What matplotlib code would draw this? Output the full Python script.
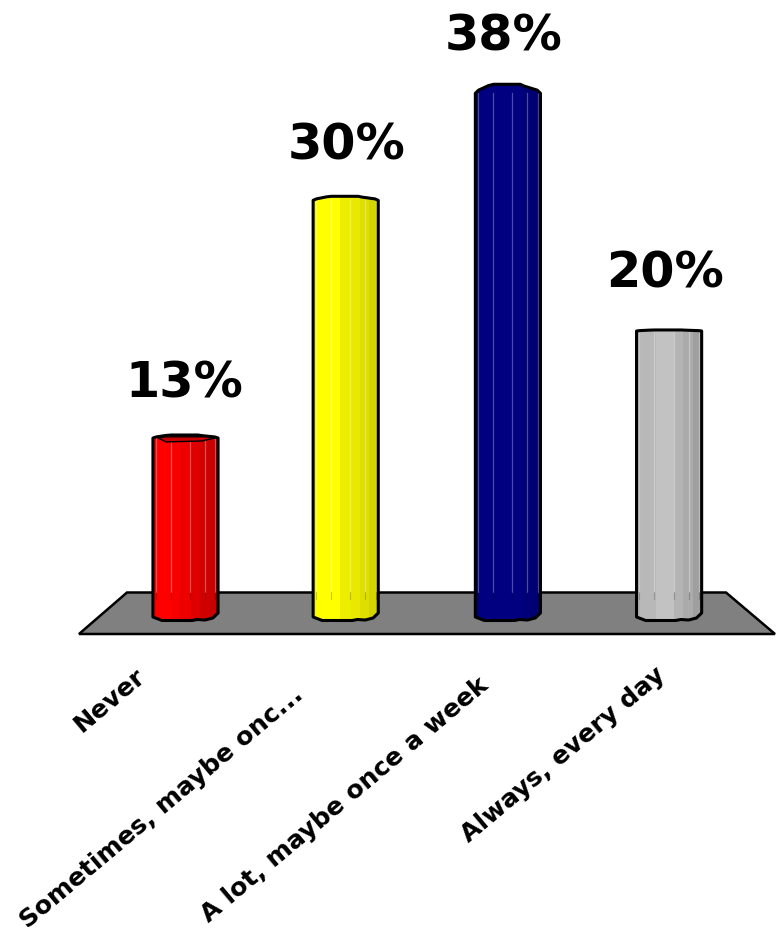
import matplotlib
matplotlib.use("Agg")
import matplotlib.pyplot as plt
from matplotlib.patches import Polygon

categories = ["Never", "Sometimes, maybe onc...", "A lot, maybe once a week", "Always, every day"]
values = [12.95, 30.05, 37.75, 20.65]
value_labels = ["13%", "30%", "38%", "20%"]
bar_colors = [(1.0, 0.0, 0.0), (1.0, 1.0, 0.0), (0.0, 0.0, 0.5), (0.76, 0.76, 0.76)]

W, H = 777, 933
BASE_PX = 618      # pixel row of value 0
PX_PER_UNIT = 13.9
FIRST_PX = 185.5   # pixel column of the first category
STEP_PX = 161.2
BAR_W = 0.404      # in category units, about 65 px

# shading across one cylinder: strip edges as fraction of width, brightness of each strip
strip_edges = [0, 0.05, 0.3, 0.42, 0.58, 0.72, 0.86, 1]
strip_shades = {
    0: [0.95, 1.0, 0.97, 0.93, 0.87, 0.82, 0.78],
    1: [0.97, 1.0, 1.0, 0.93, 0.91, 0.87, 0.83],
    2: [0.9, 1.0, 1.0, 1.0, 1.0, 0.95, 0.9],
    3: [0.92, 0.95, 1.0, 1.0, 0.93, 0.88, 0.82],
}
highlight_lines = [0.04, 0.27, 0.57, 0.8, 0.96]
cap_rise = [3, 4, 9, 1]
x_nudge = [0, -1, 0, 0]

# lumpy outline of the bars, fraction of width and pixels below/above the ends
bottom_shape = [(0, -1), (0.14, 2.5), (0.6, 2.5), (0.68, 1.5), (0.8, 2), (0.92, 0), (1, -5)]
top_shape = [(1, 0), (0.95, -0.35), (0.75, -0.8), (0.69, -1), (0.28, -1), (0.2, -0.85), (0.05, -0.35), (0, 0)]


def px_x(px):
    return (px - FIRST_PX) / STEP_PX


def px_y(py):
    return (BASE_PX - py) / PX_PER_UNIT


fig = plt.figure(figsize=(W / 100, H / 100), dpi=100)
ax = fig.add_axes([0, 0, 1, 1])
ax.set_xlim(px_x(0), px_x(W))
ax.set_ylim(px_y(H), px_y(0))
ax.axis("off")

# floor
floor = [(127, 592.5), (726, 592.5), (775, 634), (79, 634)]
ax.add_patch(Polygon([(px_x(a), px_y(b)) for a, b in floor], closed=True,
                     facecolor="#808080", edgecolor="black", linewidth=1.8, zorder=1))

for i, val in enumerate(values):
    left = i + x_nudge[i] / STEP_PX - BAR_W / 2
    rise = cap_rise[i]
    outline = []
    for frac, off in bottom_shape:
        outline.append((left + frac * BAR_W, -off / PX_PER_UNIT))
    for frac, off in top_shape:
        outline.append((left + frac * BAR_W, val - off * rise / PX_PER_UNIT))
    clip = Polygon(outline, closed=True, facecolor="none", edgecolor="black",
                   linewidth=2.2, zorder=4, joinstyle="round")
    ax.add_patch(clip)

    r, g, b = bar_colors[i]
    for j, shade in enumerate(strip_shades[i]):
        x0 = left + strip_edges[j] * BAR_W
        x1 = left + strip_edges[j + 1] * BAR_W
        bars = ax.bar(x0, val + 2, width=x1 - x0, bottom=-1, align="edge",
                      color=(r * shade, g * shade, b * shade), linewidth=0, zorder=2)
        bars[0].set_clip_path(clip)

    # thin lighter lines stop at the back edge of the floor, short dark ticks below it
    for frac in highlight_lines:
        xl = left + frac * BAR_W
        line, = ax.plot([xl, xl], [px_y(592), val], color="white", alpha=0.3,
                        linewidth=0.9, zorder=3)
        line.set_clip_path(clip)
        tick, = ax.plot([xl, xl], [px_y(592), px_y(599)], color="black", alpha=0.2,
                        linewidth=0.8, zorder=3)
        tick.set_clip_path(clip)

    # red bar shows a bit of the inside at the top
    if i == 0:
        inner = [(0.08, 0), (0.2, 1.3), (0.75, 1.0), (0.95, 0), (0.8, -0.4), (0.2, -0.4)]
        ax.add_patch(Polygon([(left + f * BAR_W, val - o * 3 / PX_PER_UNIT) for f, o in inner],
                             closed=True, facecolor="#c80000", edgecolor="black", linewidth=1, zorder=5))

# value labels above the bars
label_dx = [-1, 0, -4, -4]
label_dy = [3, 3, 5, 6]
for i, val in enumerate(values):
    ax.annotate(value_labels[i], (i, val),
                xytext=(label_dx[i] / 1.389, 27 + label_dy[i] / 1.389), textcoords="offset points",
                ha="center", va="baseline", fontsize=35.5, fontweight="bold", color="black",
                family="DejaVu Sans", zorder=6)

# category labels
label_end = [(134, 664), (292, 682), (477, 673), (654, 663)]
for i, name in enumerate(categories):
    ax.text(px_x(label_end[i][0]), px_y(label_end[i][1]), name, rotation=40, rotation_mode="anchor",
            ha="right", va="top", fontsize=18.3, fontweight="bold", color="black", family="DejaVu Sans")

fig.savefig("out.png", dpi=100)
